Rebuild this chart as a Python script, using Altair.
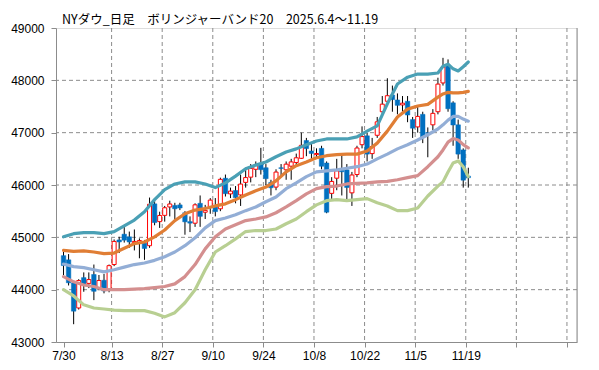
import altair as alt
import pandas as pd

title_text = "NYダウ_日足　ボリンジャーバンド20　2025.6.4～11.19"
x_labels = ["7/30", "8/13", "8/27", "9/10", "9/24", "10/8", "10/22", "11/5", "11/19", "", ""]

opens = [44650, 44570, 44130, 43650, 44230, 44120, 44290, 44040, 44180, 43990,
         44480, 44950, 45060, 45010, 44900, 44900, 44890, 44840, 45640, 45300,
         45420, 45580, 45610, 45620, 45470, 45300, 45270, 45650, 45480, 45590,
         45590, 45545, 46130, 45830, 45895, 45810, 46050, 46150, 46300, 46400,
         46330, 46050, 45960, 46330, 46290, 46360, 46430, 46510, 46850, 46650,
         46580, 46700, 46420, 45840, 46130, 46280, 46290, 45850, 46200, 46770,
         46940, 46600, 46950, 47400, 47600, 47720, 47625, 47530, 47600, 47250,
         47110, 47350, 47000, 47150, 47400, 47950, 48290, 47570, 47150, 46670,
         46170]
highs = [44730, 44680, 44150, 44200, 44330, 44330, 44480, 44280, 44300, 44480,
         44960, 45010, 45200, 45110, 45150, 44980, 44950, 45760, 45700, 45490,
         45600, 45700, 45660, 45660, 45500, 45400, 45650, 45800, 45620, 45750,
         45750, 46140, 46200, 45950, 45980, 46200, 46330, 46400, 46450, 46710,
         46400, 46100, 46300, 46400, 46450, 46500, 46600, 47000, 46900, 46800,
         46700, 46750, 46450, 46150, 46500, 46600, 46400, 46250, 46750, 47120,
         47000, 46900, 47300, 47700, 48040, 47900, 47750, 47700, 47700, 47300,
         47500, 47400, 47100, 47450, 48050, 48430, 48400, 47600, 47250, 46700,
         46330]
lows = [44280, 44080, 43340, 43620, 43960, 44030, 43800, 43990, 43930, 43950,
        44450, 44700, 44900, 44800, 44750, 44600, 44570, 44800, 45230, 45180,
        45300, 45400, 45350, 45520, 45050, 45100, 45200, 45200, 45350, 45450,
        45400, 45500, 45780, 45750, 45650, 45600, 45950, 46050, 46150, 46200,
        46000, 45800, 45900, 46150, 46100, 46100, 46350, 46500, 46550, 46500,
        46500, 46300, 45460, 45700, 45900, 45800, 45700, 45600, 46150, 46700,
        46450, 46500, 46900, 47300, 47550, 47400, 47350, 47400, 47200, 46900,
        47000, 46800, 46530, 47050, 47350, 47900, 47400, 46750, 46500, 45950,
        45950]
closes = [44461, 44131, 43589, 44174, 44112, 44193, 43969, 44176, 43975, 44459,
          44922, 44912, 44946, 44911, 44922, 44938, 44786, 45632, 45282, 45418,
          45565, 45637, 45545, 45560, 45296, 45271, 45621, 45401, 45515, 45711,
          45491, 46108, 45834, 45883, 45758, 46018, 46142, 46315, 46382, 46293,
          46121, 45947, 46247, 46316, 46398, 46441, 46520, 46758, 46695, 46603,
          46602, 46358, 45480, 46068, 46270, 46253, 45952, 46191, 46707, 46925,
          46590, 46735, 47207, 47545, 47706, 47632, 47522, 47563, 47337, 47085,
          47311, 46912, 46987, 47369, 47928, 48255, 47457, 47147, 46590, 46092,
          46139]

band_idx = [0, 2, 4, 6, 8, 10, 12, 14, 16, 18, 20, 22, 24, 26, 28, 30, 32, 34, 36, 38,
            40, 42, 44, 46, 48, 50, 52, 54, 56, 58, 60, 62, 64, 66, 68, 70, 72, 74, 75, 76,
            77, 78, 79, 80]
upper2 = [45010, 45070, 45090, 45090, 45070, 45110, 45220, 45330, 45490, 45720,
          45910, 46020, 46060, 46060, 46020, 45950, 46040, 46170, 46310, 46380,
          46440, 46540, 46630, 46690, 46770, 46840, 46880, 46880, 46880, 46920,
          47030, 47130, 47550, 47930, 48060, 48120, 48120, 48140, 48270, 48310,
          48220, 48180, 48260, 48350]
upper1 = [44750, 44730, 44740, 44720, 44690, 44700, 44790, 44880, 44910, 45010,
          45140, 45320, 45450, 45520, 45550, 45600, 45640, 45720, 45810, 45890,
          45960, 46080, 46250, 46370, 46440, 46520, 46560, 46580, 46590, 46590,
          46650, 46800, 47030, 47300, 47450, 47510, 47540, 47680, 47740, 47770,
          47760, 47760, 47770, 47790]
middle = [44490, 44440, 44420, 44380, 44340, 44380, 44430, 44480, 44510, 44560,
          44630, 44720, 44840, 44990, 45180, 45320, 45370, 45430, 45510, 45580,
          45680, 45770, 45930, 46040, 46160, 46250, 46270, 46290, 46320, 46350,
          46400, 46500, 46590, 46690, 46770, 46860, 46960, 47070, 47150, 47240,
          47310, 47310, 47260, 47220]
lower1 = [44250, 44150, 44090, 44060, 44000, 44000, 44000, 44010, 44020, 44040,
          44060, 44110, 44250, 44480, 44780, 45010, 45160, 45240, 45320, 45350,
          45390, 45470, 45580, 45700, 45830, 45930, 45970, 45980, 46020, 46030,
          46040, 46060, 46070, 46100, 46140, 46180, 46350, 46540, 46670, 46820,
          46890, 46860, 46770, 46710]
lower2 = [44000, 43880, 43710, 43650, 43630, 43610, 43600, 43600, 43600, 43550,
          43480, 43560, 43750, 44000, 44380, 44720, 44840, 44970, 45110, 45130,
          45130, 45160, 45260, 45350, 45490, 45620, 45700, 45720, 45700, 45720,
          45740, 45660, 45600, 45510, 45510, 45560, 45790, 45980, 46060, 46250,
          46420, 46460, 46350, 46160]

band_names = ["+2σ", "+1σ", "MA20", "-1σ", "-2σ"]
band_colors = ["#4AA0B5", "#E07E35", "#93AED6", "#D48F8F", "#B8CF92"]
band_series = [upper2, upper1, middle, lower1, lower2]

y_ticks = [43000, 44000, 45000, 46000, 47000, 48000, 49000]
h_grid = [44000, 45000, 46000, 47000, 48000]
v_grid = [9.5, 19.5, 29.5, 39.5, 49.5, 59.5, 69.5, 79.5, 89.5, 99.5]
x_tick_vals = [0] + v_grid

candles = pd.DataFrame({
    "idx": list(range(len(closes))),
    "open": opens, "high": highs, "low": lows, "close": closes,
})
up_df = candles[candles["close"] >= candles["open"]]
down_df = candles[candles["close"] < candles["open"]]

bands = pd.DataFrame([
    {"idx": i, "band": name, "order": k, "value": v}
    for k, (name, series) in enumerate(zip(band_names, band_series))
    for i, v in zip(band_idx, series)
])

FONT = "Liberation Sans"
GRAY = "#8c8c8c"

x_scale = alt.Scale(domain=[-0.5, 100.5], nice=False, zero=False)
y_scale = alt.Scale(domain=[43000, 49000], nice=False, zero=False)

label_array = "[" + ",".join("'" + s + "'" for s in x_labels) + "]"
x_axis = alt.Axis(values=x_tick_vals, grid=False, title=None,
                  labelExpr=label_array + "[round((datum.value + 0.5) / 10)]",
                  tickSize=5, tickColor=GRAY, domainColor=GRAY, labelColor="#000000",
                  labelFont=FONT, labelFontSize=12, labelPadding=3, labelOverlap=False,
                  labelFlush=False)
y_axis = alt.Axis(values=y_ticks, grid=False, title=None, format="d",
                  tickSize=5, tickColor=GRAY, domainColor=GRAY, labelColor="#000000",
                  labelFont=FONT, labelFontSize=12, labelPadding=7)

X = alt.X("idx:Q", scale=x_scale, axis=x_axis)

vgrid_layer = alt.Chart(pd.DataFrame({"g": v_grid})).mark_rule(
    color=GRAY, strokeDash=[4, 3], strokeWidth=1
).encode(x=alt.X("g:Q", scale=x_scale, axis=x_axis))

hgrid_layer = alt.Chart(pd.DataFrame({"h": h_grid})).mark_rule(
    color=GRAY, strokeDash=[4, 3], strokeWidth=1
).encode(y=alt.Y("h:Q", scale=y_scale, axis=y_axis))

wicks = alt.Chart(candles).mark_rule(color="#000000", strokeWidth=1).encode(
    x=X,
    y=alt.Y("low:Q", scale=y_scale, axis=y_axis),
    y2="high:Q",
)

up_bodies = alt.Chart(up_df).mark_bar(
    size=4, fill="#FFFFFF", stroke="#FF0000", strokeWidth=1
).encode(
    x=X,
    y=alt.Y("open:Q", scale=y_scale, axis=y_axis),
    y2="close:Q",
)

down_bodies = alt.Chart(down_df).mark_bar(
    size=4.5, fill="#0070C0", stroke="#0070C0", strokeWidth=0.5
).encode(
    x=X,
    y=alt.Y("open:Q", scale=y_scale, axis=y_axis),
    y2="close:Q",
)

band_lines = alt.Chart(bands).mark_line(strokeWidth=3.2, strokeCap="round",
                                        strokeJoin="round").encode(
    x=X,
    y=alt.Y("value:Q", scale=y_scale, axis=y_axis),
    color=alt.Color("band:N", scale=alt.Scale(domain=band_names, range=band_colors),
                    legend=None),
    detail="band:N",
    order="idx:Q",
)

right_border = alt.Chart(pd.DataFrame({"d": [0]})).mark_rule(
    color=GRAY, strokeWidth=1
).encode(x=alt.value(521), y=alt.value(0), y2=alt.value(314))

chart = alt.layer(
    vgrid_layer, hgrid_layer, wicks, up_bodies, down_bodies, band_lines, right_border
).properties(
    width=521,
    height=314,
    autosize=alt.AutoSizeParams(type="none"),
    padding={"left": 48, "top": 20, "right": 10, "bottom": 20},
    title=alt.TitleParams(text=title_text, anchor="start", frame="group",
                          font="Noto Sans CJK JP", fontSize=12.5, fontWeight="normal",
                          color="#000000", dx=6, offset=-4),
).configure_view(stroke=None).configure(background="#FFFFFF")

chart.save("out.html", embed_options={"renderer": "svg", "actions": False})
